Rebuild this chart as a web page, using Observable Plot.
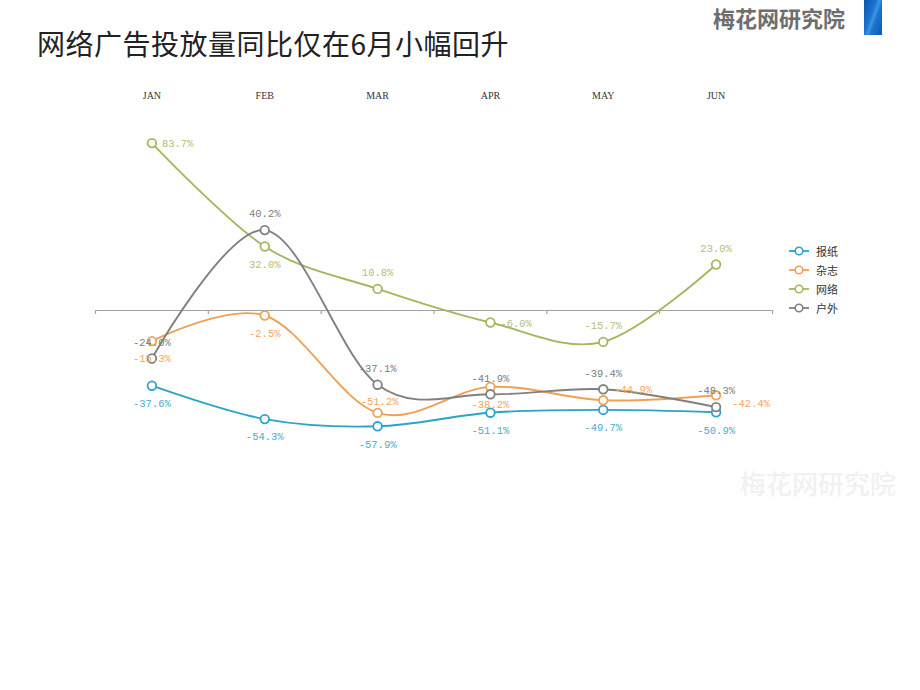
<!DOCTYPE html>
<html>
<head>
<meta charset="utf-8">
<script src="https://cdn.jsdelivr.net/npm/d3@7"></script>
<script src="https://cdn.jsdelivr.net/npm/@observablehq/plot@0.6"></script>
<style>
  html, body { margin: 0; padding: 0; background: #fff; }
  #page { position: relative; width: 920px; height: 690px; overflow: hidden; background: #fff; }
  #header { position: relative; height: 70px; }
  #title { position: absolute; left: 37px; top: 27px; font-family: "Noto Sans CJK SC", sans-serif; font-size: 28px; line-height: 32px; color: #222; letter-spacing: 0.5px; white-space: nowrap; }
  #logo { position: absolute; left: 713px; top: 2px; font-family: "Noto Sans CJK SC", sans-serif; font-size: 22px; line-height: 30px; color: #6e6e6e; font-weight: 600; white-space: nowrap; }
  #logobar { position: absolute; left: 864px; top: 0; width: 18px; height: 35px; background: linear-gradient(110deg, #0a56ab 0%, #1a74cf 40%, #3f95e3 52%, #1a74cf 62%, #0b5bb3 100%); }
  #legend { position: absolute; left: 789px; top: 241px; font-family: "Noto Sans CJK SC", sans-serif; font-size: 11px; color: #333; }
  .lrow { height: 19px; display: flex; align-items: center; }
  .lrow svg { margin-right: 7px; }
  #watermark { position: absolute; left: 740px; top: 467px; font-family: "Noto Sans CJK SC", sans-serif; font-size: 26px; line-height: 32px; color: #f1f1f1; font-weight: 500; white-space: nowrap; }
  #chart svg { display: block; }
</style>
</head>
<body>
<div id="page">
  <div id="header">
    <div id="title">网络广告投放量同比仅在6月小幅回升</div>
    <div id="logo">梅花网研究院</div>
    <div id="logobar"></div>
  </div>
  <div id="chart"></div>
  <div id="legend"></div>
  <div id="watermark">梅花网研究院</div>
</div>
<script>
// ---- data ----
const months = ["JAN", "FEB", "MAR", "APR", "MAY", "JUN"];
const seriesNames = ["报纸", "杂志", "网络", "户外"];
const newspaper = [-37.6, -54.3, -57.9, -51.1, -49.7, -50.9];
const magazine  = [-15.3, -2.5, -51.2, -38.2, -44.9, -42.4];
const internet  = [83.7, 32.0, 10.8, -6.0, -15.7, 23.0];
const outdoor   = [-24.0, 40.2, -37.1, -41.9, -39.4, -48.3];

// ---- styling / layout ----
const lineColors  = ["#2aa4c9", "#f0a055", "#a6b65f", "#808080"];
const labelColors = ["#46acd0", "#eea664", "#b3bd78", "#7c7c7c"];
const labelPlace = [
  ["below", "below", "below", "below", "below", "below"],
  ["below", "below", "aboveNear", "below", "upright", "downright"],
  ["right", "below", "above", "right", "above", "above"],
  ["above", "above", "above", "above", "above", "above"]
];
const placeStyle = {
  above:     {dx: 0,  dy: -16, anchor: "middle"},
  below:     {dx: 0,  dy: 18,  anchor: "middle"},
  aboveNear: {dx: 2,  dy: -11, anchor: "middle"},
  right:     {dx: 10, dy: 1,   anchor: "start"},
  upright:   {dx: 11, dy: -11, anchor: "start"},
  downright: {dx: 16, dy: 8,   anchor: "start"}
};

const valuesBySeries = [newspaper, magazine, internet, outdoor];
const rows = [];
valuesBySeries.forEach((vals, s) => {
  vals.forEach((v, i) => rows.push({series: seriesNames[s], s, i, value: v, place: labelPlace[s][i]}));
});

const color = {domain: seriesNames, range: lineColors};
const boundaries = d3.range(months.length + 1).map(k => k - 0.5);

const labelMarks = Object.entries(placeStyle).map(([key, st]) =>
  Plot.text(rows.filter(r => r.place === key), {
    x: "i", y: "value",
    text: d => d.value.toFixed(1) + "%",
    fill: d => labelColors[d.s],
    dx: st.dx, dy: st.dy, textAnchor: st.anchor,
    fontFamily: "Liberation Mono, monospace", fontSize: 10.5
  })
);

const chart = Plot.plot({
  width: 920,
  height: 620,
  marginLeft: 95,
  marginRight: 148,
  marginTop: 40,
  marginBottom: 180,
  style: {background: "transparent"},
  x: {domain: [-0.5, months.length - 0.5]},
  y: {domain: [-100, 100], axis: null},
  color,
  marks: [
    Plot.axisX(d3.range(months.length), {
      anchor: "top", tickSize: 0, tickPadding: 12,
      tickFormat: i => months[i],
      fontFamily: "Liberation Serif, serif", fontSize: 10, fill: "#333", label: null
    }),
    Plot.ruleY([0], {stroke: "#a3a3a3", strokeWidth: 1.2}),
    Plot.ruleX(boundaries, {x: d => d, y1: 0, y2: -2, stroke: "#a3a3a3", strokeWidth: 1.2}),
    Plot.line(rows, {x: "i", y: "value", z: "series", stroke: "series", curve: "cardinal", strokeWidth: 1.9}),
    Plot.dot(rows, {x: "i", y: "value", stroke: "series", fill: "white", r: 4.3, strokeWidth: 1.8}),
    ...labelMarks
  ]
});
document.getElementById("chart").appendChild(chart);

// ---- legend ----
const legend = document.getElementById("legend");
seriesNames.forEach((name, s) => {
  const row = document.createElement("div");
  row.className = "lrow";
  row.innerHTML = `<svg width="20" height="12"><line x1="0" y1="6" x2="20" y2="6" stroke="${lineColors[s]}" stroke-width="1.8"/><circle cx="10" cy="6" r="3.8" fill="white" stroke="${lineColors[s]}" stroke-width="1.6"/></svg><span>${name}</span>`;
  legend.appendChild(row);
});
</script>
</body>
</html>
